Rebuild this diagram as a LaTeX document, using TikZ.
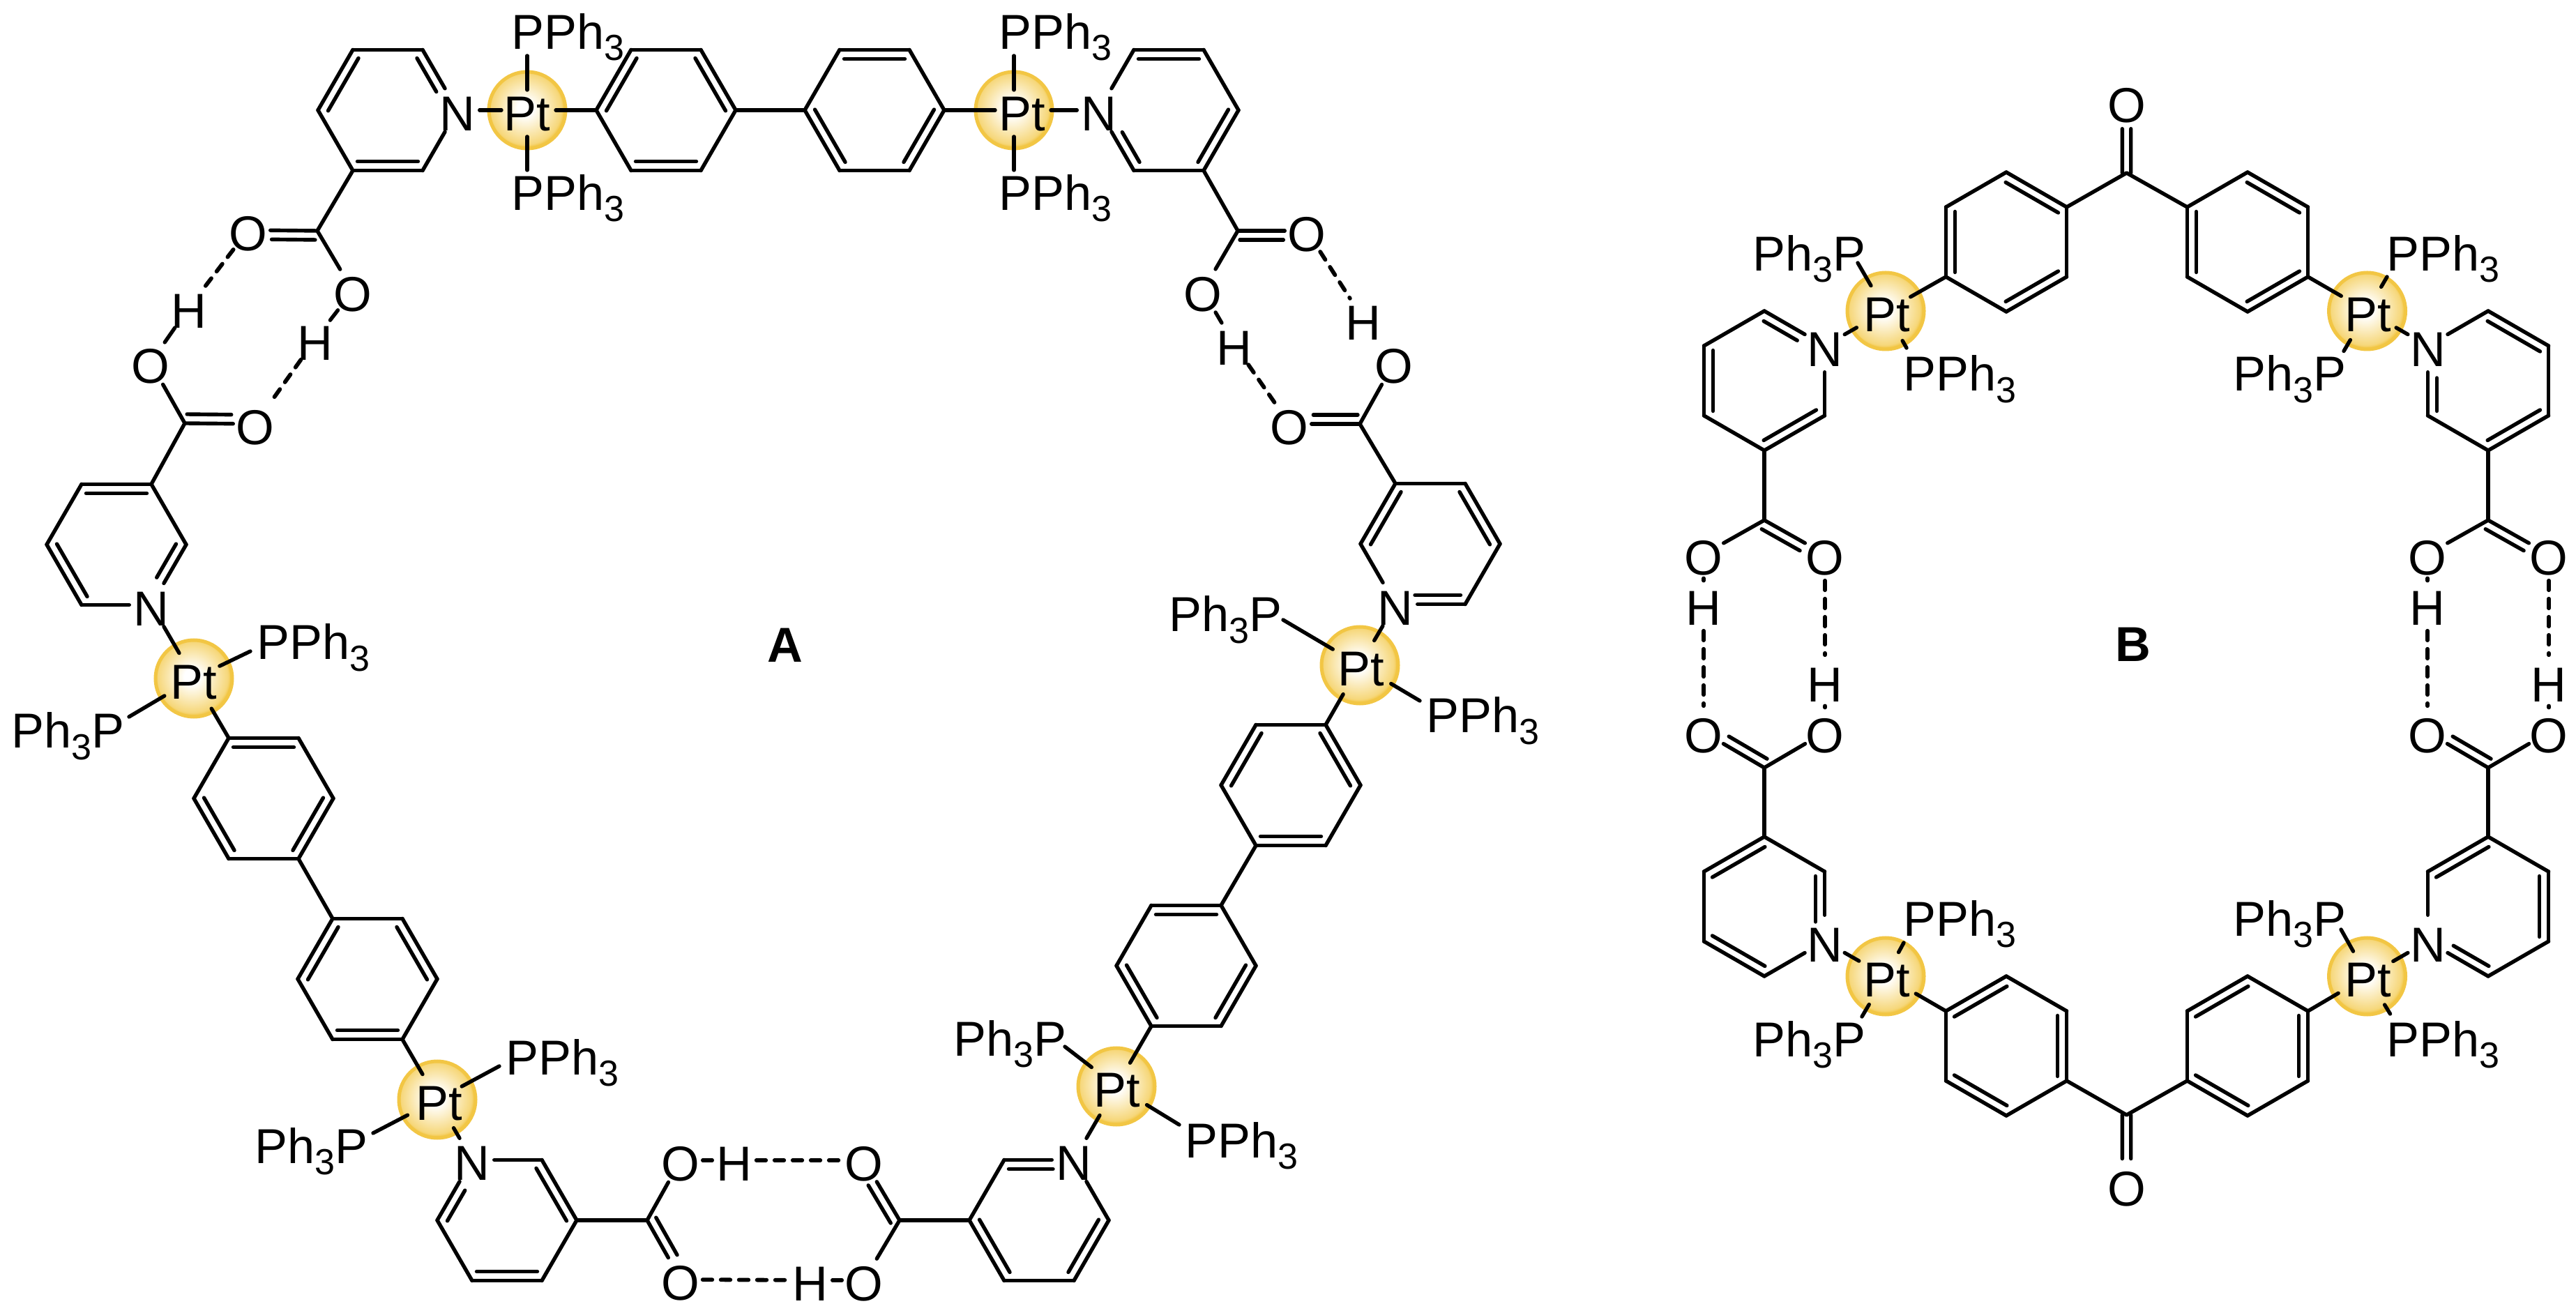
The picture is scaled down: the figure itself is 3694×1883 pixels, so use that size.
\documentclass[tikz,border=0pt]{standalone}
\usepackage{fontspec}
\setmainfont{Liberation Sans}
\usetikzlibrary{calc,shapes.geometric}
\definecolor{ptedge}{HTML}{F2C644}
\definecolor{ptmid}{HTML}{F6D77A}
\pgfdeclareradialshading{ptglow}{\pgfpoint{-1.5bp}{1.5bp}}{color(0bp)=(white); color(5bp)=(white); color(23bp)=(ptmid); color(25bp)=(ptedge); color(50bp)=(ptedge)}
\newcommand\chemfont{\fontsize{20pt}{20pt}\selectfont}
\newcommand\tri{\raisebox{-.16cm}{\fontsize{14.8pt}{15pt}\selectfont 3}}
\newcommand\lab[1]{\makebox[0pt]{\raisebox{-.295cm}[0pt][0pt]{#1}}}
\tikzset{
  bond/.style={line width=.054cm,line cap=round,line join=round,black},
  hbond/.style={bond,line width=.058cm,dash pattern=on .135cm off .125cm},
  atom/.style={ellipse,inner sep=0pt,minimum width=.62cm,minimum height=.74cm,font=\chemfont},
  ptn/.style={circle,inner sep=0pt,minimum size=.1cm,font=\chemfont},
  lig/.style={anchor=base west,inner sep=0pt,xshift=-.05cm,font=\chemfont},
  tag/.style={anchor=base,inner sep=0pt,font=\chemfont\bfseries},
  glow/.style={shading=ptglow,draw=ptedge,line width=.05cm}
}
% hexagon: vertices name1..name6 run clockwise on the page; #5 = index of the N vertex (0 = none)
\newcommand\hexa[5]{%
  \foreach \k in {1,...,6}{\coordinate (#1\k) at ({#2+100*cos(#4+60*\k)},{#3+100*sin(#4+60*\k)});}
  \ifnum#5>0 \node[atom] (#1#5) at (#1#5) {\lab{N}};\fi
  \foreach \a/\b in {1/2,2/3,3/4,4/5,5/6,6/1}{\draw[bond] (#1\a) -- (#1\b);}
}
% second line of a double bond: a,b, end fractions, side angle, offset
\newcommand\innerline[6]{\draw[bond] ($(#1)!#3!(#2)!#6!#5:(#2)$) -- ($(#2)!#4!(#1)!#6!-#5:(#1)$);}
\newcommand\rd[3]{\innerline{#1#2}{#1#3}{.065}{.065}{-90}{.13cm}}
\newcommand\rdn[4]{\innerline{#1#2}{#1#3}{.065}{#4}{-90}{.13cm}}
\newcommand\co[3]{\draw[bond] (#1) -- (#2);\innerline{#1}{#2}{.03}{.34}{#3}{.13cm}}
\newcommand\cosym[2]{\innerline{#1}{#2}{.0}{.38}{90}{.062cm}\innerline{#1}{#2}{.0}{.38}{-90}{.062cm}}
\newcommand\chematom[4]{\node[atom] (#1) at (#2,#3) {\lab{#4}};}
\newcommand\ptnode[4]{\shade[glow] (#2,#3) circle (55);\node[ptn] (#1) at (#2,#3) {\lab{\kern#4 Pt}};}
\newcommand\ptb[3]{\draw[bond] ($(#1)!#3!(#2)$) -- (#2);}
\begin{document}
\begin{tikzpicture}[x=.01cm,y=-.01cm]
\useasboundingbox (0,0) rectangle (3694,1883);
% ===== A =====
\ptnode{ptA}{756}{158}{0cm}
\ptnode{ptB}{1454}{158}{.24cm}
\ptnode{ptC}{278}{973}{0cm}
\ptnode{ptD}{627}{1577}{.05cm}
\ptnode{ptE}{1601}{1558}{.02cm}
\ptnode{ptF}{1950}{954}{.04cm}
% rings
\hexa{tpa}{556}{158}{0}{6}\rd{tpa}{1}{2}\rd{tpa}{3}{4}\rdn{tpa}{5}{6}{.38}
\hexa{tpb}{955}{158}{0}{0}\rd{tpb}{1}{2}\rd{tpb}{3}{4}\rd{tpb}{5}{6}
\hexa{tpc}{1254}{158}{0}{0}\rd{tpc}{2}{3}\rd{tpc}{4}{5}\rd{tpc}{6}{1}
\hexa{tpd}{1676}{158}{0}{3}\rdn{tpd}{2}{3}{.44}\rd{tpd}{4}{5}\rd{tpd}{6}{1}
\hexa{la}{167}{781}{0}{1}\rd{la}{4}{5}\rd{la}{2}{3}\rdn{la}{6}{1}{.38}
\hexa{lb}{378}{1145}{0}{0}\rd{lb}{4}{5}\rd{lb}{2}{3}\rd{lb}{6}{1}
\hexa{lc}{527}{1404}{0}{0}\rd{lc}{3}{4}\rd{lc}{5}{6}\rd{lc}{1}{2}
\hexa{ld}{727}{1750}{0}{4}\rdn{ld}{3}{4}{.43}\rd{ld}{5}{6}\rd{ld}{1}{2}
\hexa{ra}{1490}{1750}{0}{5}\rdn{ra}{4}{5}{.30}\rd{ra}{6}{1}\rd{ra}{2}{3}
\hexa{rb}{1701}{1385}{0}{0}\rd{rb}{2}{3}\rd{rb}{6}{1}\rd{rb}{4}{5}
\hexa{rc}{1851}{1126}{0}{0}\rd{rc}{1}{2}\rd{rc}{3}{4}\rd{rc}{5}{6}
\hexa{rd}{2051}{780}{0}{2}\rdn{rd}{1}{2}{.28}\rd{rd}{3}{4}\rd{rd}{5}{6}
% ring-ring and ring-Pt links
\draw[bond] (tpb6) -- (tpc3);
\draw[bond] (lb1) -- (lc4);
\draw[bond] (rb5) -- (rc2);
\coordinate (a1u) at (756,80); \coordinate (a1d) at (756,244);
\coordinate (a2u) at (1454,80); \coordinate (a2d) at (1454,244);
\ptb{ptA}{a1u}{.29cm}\ptb{ptA}{a1d}{.38cm}\ptb{ptA}{tpa6}{.37cm}\ptb{ptA}{tpb3}{.41cm}
\ptb{ptB}{a2u}{.29cm}\ptb{ptB}{a2d}{.38cm}\ptb{ptB}{tpc6}{.27cm}\ptb{ptB}{tpd3}{.53cm}
\coordinate (a3r) at (359,934); \coordinate (a3l) at (185,1028);
\ptb{ptC}{la1}{.42cm}\ptb{ptC}{a3r}{.41cm}\ptb{ptC}{a3l}{.49cm}\ptb{ptC}{lb4}{.50cm}
\coordinate (a4r) at (716,1529); \coordinate (a4l) at (535,1625);
\ptb{ptD}{lc1}{.42cm}\ptb{ptD}{a4r}{.40cm}\ptb{ptD}{a4l}{.48cm}\ptb{ptD}{ld4}{.47cm}
\coordinate (a5r) at (1691,1613); \coordinate (a5l) at (1527,1501);
\ptb{ptE}{ra5}{.48cm}\ptb{ptE}{a5l}{.45cm}\ptb{ptE}{a5r}{.51cm}\ptb{ptE}{rb2}{.39cm}
\coordinate (a6r) at (2036,1005); \coordinate (a6l) at (1840,889);
\ptb{ptF}{rc5}{.48cm}\ptb{ptF}{rd2}{.41cm}\ptb{ptF}{a6l}{.45cm}\ptb{ptF}{a6r}{.52cm}
% ligands
\node[lig] (l1) at (738,71) {PPh\tri};
\node[lig] (l2) at (738,302) {PPh\tri};
\node[lig] (l3) at (1437,71) {PPh\tri};
\node[lig] (l4) at (1437,302) {PPh\tri};
\node[lig] (l5) at (373,946) {PPh\tri};
\node[lig] (l6) at (21,1073) {Ph\tri P};
\node[lig] (l7) at (730,1541) {PPh\tri};
\node[lig] (l8) at (370,1668) {Ph\tri P};
\node[lig] (l9) at (1372,1514) {Ph\tri P};
\node[lig] (l10) at (1704,1660) {PPh\tri};
\node[lig] (l11) at (1681,906) {Ph\tri P};
\node[lig] (l12) at (2050,1051) {PPh\tri};
% upper-left acid pair
\coordinate (c1) at (455,331);
\chematom{o1}{356}{330}{O}\chematom{o2}{506}{417}{O}\chematom{h1}{452}{487}{H}
\chematom{h2}{271}{441}{H}\chematom{o3}{216}{520}{O}\chematom{o4}{366}{608}{O}
\coordinate (c2) at (265,607);
\draw[bond] (tpa2) -- (c1); \co{c1}{o1}{90} \draw[bond] (c1) -- (o2);
\draw[bond] (o2) -- (h1); \draw[hbond] (h1) -- (o4); \draw[hbond] (o1) -- (h2); \draw[bond] (h2) -- (o3);
\draw[bond] (o3) -- (c2); \co{c2}{o4}{90} \draw[bond] (c2) -- (la5);
% upper-right acid pair
\coordinate (c3) at (1775,331);
\chematom{o5}{1874}{331}{O}\chematom{o6}{1725}{417}{O}\chematom{h3}{1770}{494}{H}
\chematom{h4}{1955}{458}{H}\chematom{o7}{1849}{608}{O}\chematom{o8}{1999}{520}{O}
\coordinate (c4) at (1950,608);
\draw[bond] (tpd1) -- (c3); \co{c3}{o5}{-90} \draw[bond] (c3) -- (o6);
\draw[bond] (o6) -- (h3); \draw[hbond] (h3) -- (o7); \draw[hbond] (o5) -- (h4);
\draw[bond] (o8) -- (c4); \co{c4}{o7}{-90} \draw[bond] (c4) -- (rd4);
% bottom acid pair
\coordinate (c5) at (928,1750); \coordinate (c6) at (1290,1750);
\chematom{o9}{976}{1664}{O}\chematom{h5}{1053}{1664}{H}\chematom{o10}{1239}{1664}{O}
\chematom{o11}{976}{1835}{O}\chematom{h6}{1162}{1836}{H}\chematom{o12}{1239}{1836}{O}
\draw[bond] (ld6) -- (c5); \draw[bond] (c5) -- (o9); \co{c5}{o11}{90}
\draw[bond] (o9) -- (h5); \draw[hbond] (h5) -- (o10); \draw[hbond] (o11) -- (h6); \draw[bond] (h6) -- (o12);
\draw[bond] (ra3) -- (c6); \draw[bond] (c6) -- (o12); \co{c6}{o10}{90}
\node[tag] (tagA) at (1126,950) {A};
% ===== B =====
\ptnode{ptG}{2704}{446}{.03cm}
\ptnode{ptH}{3394.5}{446}{.03cm}
\ptnode{ptI}{2704}{1400}{.03cm}
\ptnode{ptJ}{3394.5}{1400}{.03cm}
\hexa{bqa}{2877}{347}{30}{0}\rd{bqa}{2}{3}\rd{bqa}{4}{5}\rd{bqa}{6}{1}
\hexa{bqb}{3223}{347}{30}{0}\rd{bqb}{2}{3}\rd{bqb}{4}{5}\rd{bqb}{6}{1}
\hexa{bqc}{2877}{1500}{30}{0}\rd{bqc}{3}{4}\rd{bqc}{5}{6}\rd{bqc}{1}{2}
\hexa{bqd}{3223}{1500}{30}{0}\rd{bqd}{3}{4}\rd{bqd}{5}{6}\rd{bqd}{1}{2}
\hexa{bpa}{2530}{546}{30}{5}\rd{bpa}{2}{3}\rdn{bpa}{4}{5}{.38}\rd{bpa}{6}{1}
\hexa{bpb}{3568}{546}{30}{3}\rdn{bpb}{2}{3}{.46}\rd{bpb}{4}{5}\rd{bpb}{6}{1}
\hexa{bpc}{2530}{1300}{30}{6}\rd{bpc}{3}{4}\rdn{bpc}{5}{6}{.28}\rd{bpc}{1}{2}
\hexa{bpd}{3568}{1300}{30}{2}\rd{bpd}{3}{4}\rd{bpd}{5}{6}\rdn{bpd}{1}{2}{.35}
% ketones
\coordinate (k1) at (3049.5,248); \coordinate (k2) at (3049.5,1599);
\chematom{ok1}{3049.5}{146}{O}\chematom{ok2}{3049.5}{1700}{O}
\draw[bond] (bqa5) -- (k1) -- (bqb3); \cosym{k1}{ok1}
\draw[bond] (bqc6) -- (k2) -- (bqd2); \cosym{k2}{ok2}
% Pt links
\coordinate (b1a) at (2664,377); \coordinate (b1b) at (2734,499);
\ptb{ptG}{bqa2}{.41cm}\ptb{ptG}{b1a}{.42cm}\ptb{ptG}{bpa5}{.48cm}\ptb{ptG}{b1b}{.49cm}
\coordinate (b2a) at (3423,397); \coordinate (b2b) at (3361,503.5);
\ptb{ptH}{bqb6}{.43cm}\ptb{ptH}{b2a}{.40cm}\ptb{ptH}{b2b}{.48cm}\ptb{ptH}{bpb3}{.48cm}
\coordinate (b3a) at (2730,1352); \coordinate (b3b) at (2670,1458);
\ptb{ptI}{bpc6}{.44cm}\ptb{ptI}{b3a}{.39cm}\ptb{ptI}{b3b}{.47cm}\ptb{ptI}{bqc3}{.50cm}
\coordinate (b4a) at (3357,1333); \coordinate (b4b) at (3427.5,1454);
\ptb{ptJ}{bqd5}{.48cm}\ptb{ptJ}{b4a}{.41cm}\ptb{ptJ}{bpd2}{.43cm}\ptb{ptJ}{b4b}{.48cm}
\node[lig] (m1) at (2518,389) {Ph\tri P};
\node[lig] (m2) at (2734,561) {PPh\tri};
\node[lig] (m3) at (3427,389) {PPh\tri};
\node[lig] (m4) at (3207,561) {Ph\tri P};
\node[lig] (m5) at (2734,1342) {PPh\tri};
\node[lig] (m6) at (2518,1515) {Ph\tri P};
\node[lig] (m7) at (3207,1342) {Ph\tri P};
\node[lig] (m8) at (3427,1515) {PPh\tri};
% left acid pair of B
\coordinate (c7) at (2530,746); \coordinate (c8) at (2530,1101);
\chematom{oa}{2443}{795}{O}\chematom{ob}{2617}{795}{O}\chematom{ha}{2443}{867}{H}
\chematom{oc}{2443}{1050}{O}\chematom{od}{2617}{1050}{O}\chematom{hb}{2617}{977}{H}
\draw[bond] (bpa1) -- (c7); \draw[bond] (c7) -- (oa); \co{c7}{ob}{-90}
\draw[bond] (oa) -- (ha); \draw[hbond] (ha) -- (oc); \draw[hbond] (ob) -- (hb); \draw[bond] (hb) -- (od);
\draw[bond] (bpc4) -- (c8); \draw[bond] (c8) -- (od); \co{c8}{oc}{-90}
% right acid pair of B
\coordinate (c9) at (3568,746); \coordinate (c10) at (3568,1101);
\chematom{oe}{3481}{795}{O}\chematom{of}{3655}{795}{O}\chematom{hc}{3481}{867}{H}
\chematom{og}{3481}{1050}{O}\chematom{oh}{3655}{1050}{O}\chematom{hd}{3655}{977}{H}
\draw[bond] (bpb1) -- (c9); \draw[bond] (c9) -- (oe); \co{c9}{of}{-90}
\draw[bond] (oe) -- (hc); \draw[hbond] (hc) -- (og); \draw[hbond] (of) -- (hd); \draw[bond] (hd) -- (oh);
\draw[bond] (bpd4) -- (c10); \draw[bond] (c10) -- (oh); \co{c10}{og}{-90}
\node[tag] (tagB) at (3059,949) {B};
\end{tikzpicture}
\end{document}
